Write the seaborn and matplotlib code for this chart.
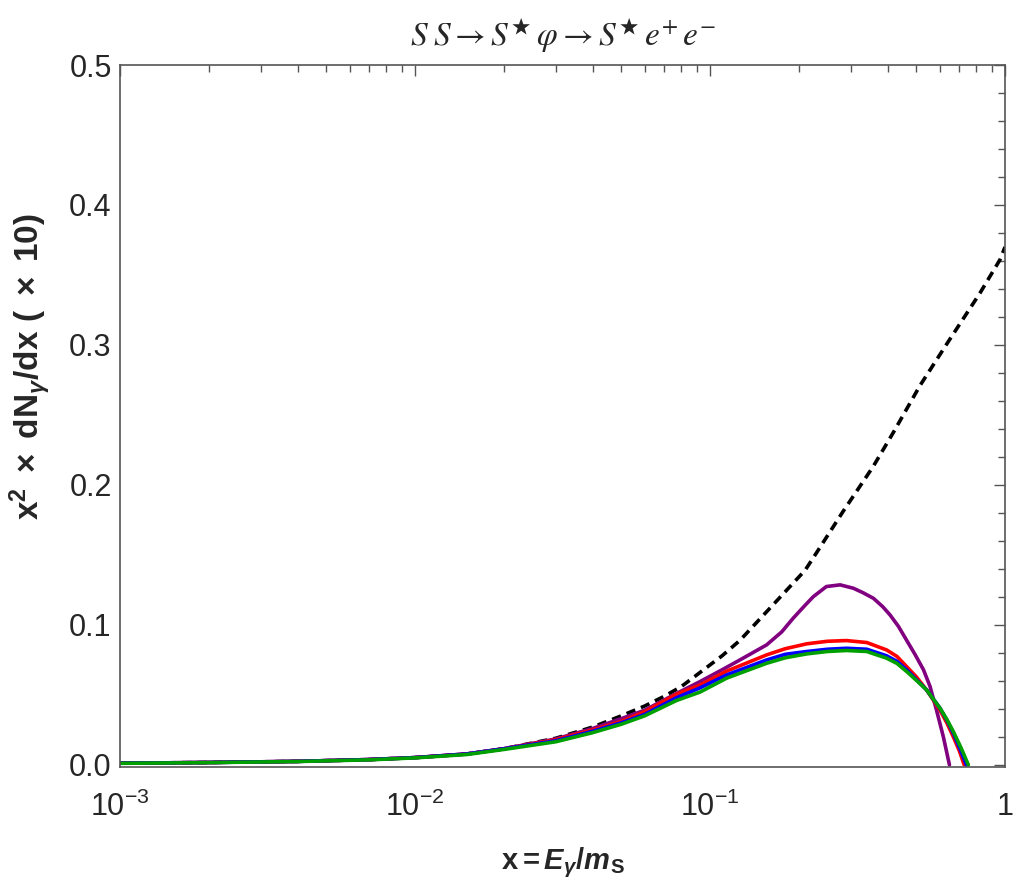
import numpy as np
import pandas as pd
import seaborn as sns
import matplotlib
matplotlib.use("Agg")
import matplotlib.pyplot as plt
from matplotlib.ticker import LogLocator, MultipleLocator, NullFormatter

# values (x = E_gamma / m_S, y = x^2 dN/dx * 10)
x_low = [0.001, 0.002, 0.004, 0.007, 0.01, 0.015, 0.02]
y_low = [0.0012, 0.0017, 0.0025, 0.0038, 0.0052, 0.0078, 0.0115]

x_dash = x_low + [0.03, 0.04, 0.05, 0.06, 0.07, 0.08, 0.0925, 0.11, 0.1264, 0.1597,
                  0.21, 0.224, 0.2824, 0.357, 0.417, 0.515, 0.636, 0.822, 0.962, 1.0]
y_dash = y_low + [0.019, 0.027, 0.035, 0.042, 0.049, 0.056, 0.066, 0.078, 0.089, 0.112,
                  0.139, 0.148, 0.181, 0.213, 0.237, 0.271, 0.301, 0.337, 0.361, 0.37]

x_purple = x_low + [0.03, 0.04, 0.05, 0.06, 0.077, 0.0925, 0.11, 0.1264, 0.1555, 0.175,
                    0.1914, 0.21, 0.224, 0.248, 0.276, 0.306, 0.33, 0.358, 0.385, 0.408,
                    0.435, 0.464, 0.495, 0.529, 0.557, 0.586, 0.618, 0.648]
y_purple = y_low + [0.0185, 0.026, 0.033, 0.039, 0.051, 0.0595, 0.068, 0.075, 0.0857, 0.095,
                    0.1048, 0.114, 0.1202, 0.1274, 0.1286, 0.1262, 0.123, 0.119, 0.113, 0.107,
                    0.099, 0.089, 0.079, 0.068, 0.056, 0.039, 0.020, 0.0]

x_red = x_low + [0.03, 0.04, 0.05, 0.06, 0.077, 0.0925, 0.114, 0.1557, 0.18, 0.213, 0.25,
                 0.29, 0.34, 0.397, 0.43, 0.464, 0.5, 0.542, 0.602, 0.635, 0.668, 0.70, 0.727]
y_red = y_low + [0.018, 0.025, 0.031, 0.038, 0.0505, 0.057, 0.067, 0.0786, 0.083, 0.0865, 0.0883,
                 0.0888, 0.0874, 0.0821, 0.0775, 0.0702, 0.063, 0.0536, 0.039, 0.030, 0.020,
                 0.010, 0.0]

x_blue = x_low + [0.03, 0.04, 0.05, 0.06, 0.077, 0.0925, 0.114, 0.1557, 0.18, 0.213, 0.25,
                  0.29, 0.34, 0.397, 0.43, 0.464, 0.5, 0.542, 0.602, 0.635, 0.668, 0.705, 0.74]
y_blue = y_low + [0.0172, 0.024, 0.030, 0.036, 0.048, 0.055, 0.0643, 0.075, 0.079, 0.081, 0.0826,
                  0.0833, 0.0826, 0.0779, 0.074, 0.0679, 0.061, 0.0536, 0.0405, 0.032, 0.0226,
                  0.011, 0.0]

x_green = x_low + [0.03, 0.04, 0.05, 0.06, 0.077, 0.0925, 0.114, 0.1557, 0.18, 0.213, 0.25,
                   0.29, 0.34, 0.397, 0.43, 0.464, 0.5, 0.542, 0.602, 0.635, 0.668, 0.71, 0.751]
y_green = [0.0011, 0.0016, 0.0024, 0.0036, 0.005, 0.0074, 0.011] + \
          [0.0165, 0.023, 0.029, 0.035, 0.046, 0.052, 0.062, 0.0726, 0.0765, 0.0793, 0.081,
           0.0817, 0.081, 0.0762, 0.0725, 0.0667, 0.0605, 0.0536, 0.0405, 0.0325, 0.0238,
           0.012, 0.0]

series = [
    ("dash", x_dash, y_dash, "black", (0, (2.6, 1.7))),
    ("purple", x_purple, y_purple, "#800080", "-"),
    ("red", x_red, y_red, "#ff0000", "-"),
    ("blue", x_blue, y_blue, "#0000ff", "-"),
    ("green", x_green, y_green, "#00a000", "-"),
]

sns.set_style("white")
plt.rcParams["font.family"] = ["Liberation Sans", "DejaVu Sans"]
plt.rcParams["mathtext.fontset"] = "custom"
plt.rcParams["mathtext.rm"] = "Liberation Sans"
plt.rcParams["mathtext.it"] = "Liberation Sans:italic"
plt.rcParams["mathtext.bf"] = "Liberation Sans:bold"
plt.rcParams["mathtext.bfit"] = "Liberation Sans:italic:bold"

fig = plt.figure(figsize=(10.16, 8.88), dpi=100)
ax = fig.add_axes([0.1181, 0.1363, 0.8711, 0.7905])

for name, xs, ys, col, ls in series:
    df = pd.DataFrame({"x": xs, "y": ys})
    sns.lineplot(data=df, x="x", y="y", ax=ax, color=col, linestyle=ls,
                 linewidth=2.6, sort=False, estimator=None)

ax.set_xscale("log")
ax.set_xlim(1e-3, 1)
ax.set_ylim(-0.0015, 0.5)

ax.set_xticks([1e-3, 1e-2, 1e-1, 1])
ax.set_xticklabels([r"$10^{-3}$", r"$10^{-2}$", r"$10^{-1}$", "1"])
ax.xaxis.set_minor_locator(LogLocator(base=10, subs=np.arange(2, 10)))
ax.xaxis.set_minor_formatter(NullFormatter())
ax.set_yticks([0.0, 0.1, 0.2, 0.3, 0.4, 0.5])
ax.set_yticklabels(["0.0", "0.1", "0.2", "0.3", "0.4", "0.5"])
ax.yaxis.set_minor_locator(MultipleLocator(0.02))

ax.tick_params(which="both", direction="in", top=True, right=True, color="#555555",
               labelsize=22)
ax.tick_params(axis="y", pad=6)
ax.tick_params(axis="x", pad=18)
ax.tick_params(which="major", length=8, width=1)
ax.tick_params(which="minor", length=5, width=1)
for sp in ax.spines.values():
    sp.set_color("#555555")
    sp.set_linewidth(1.2)

ax.set_xlabel(r"$\mathbf{x=}\mathbfit{E}_{\mathbfit{\gamma}}\mathbf{/}\mathbfit{m}_{\mathbf{S}}$",
              fontsize=21, labelpad=16)
ax.set_ylabel(r"$\mathbf{x^2\ \times\ dN}_{\mathbfit{\gamma}}\mathbf{/dx\ (\ \times\ 10)}$",
              fontsize=24)
ax.yaxis.set_label_coords(-0.076, 0.57)
ax.set_title(r"$S\;S\rightarrow S^{\bigstar}\,\varphi\rightarrow S^{\bigstar}\,e^{+}\,e^{-}$",
             fontsize=24, pad=14, math_fontfamily="stix")

fig.savefig("out.png", dpi=100)
